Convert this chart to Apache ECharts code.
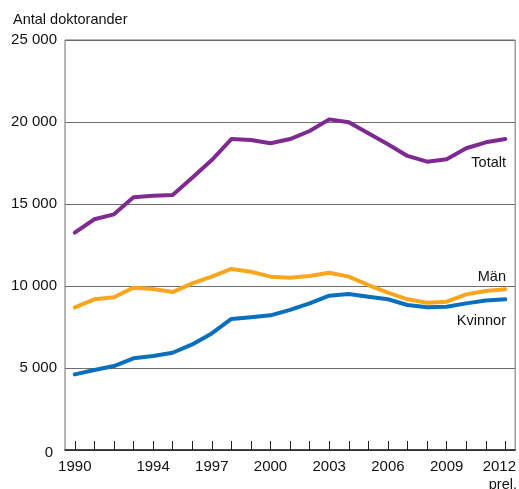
<!DOCTYPE html>
<html>
<head>
<meta charset="utf-8">
<script src="https://cdn.jsdelivr.net/npm/echarts@6/dist/echarts.min.js"></script>
<style>
  html, body { margin: 0; padding: 0; background: #fff; }
  #chart { width: 519px; height: 489px; }
</style>
</head>
<body>
<div id="chart"></div>
<script>
var years = ['1990', '1991', '1992', '1993', '1994', '1995', '1996', '1997', '1998', '1999', '2000',
  '2001', '2002', '2003', '2004', '2005', '2006', '2007', '2008', '2009', '2010', '2011', '2012'];
var shownYears = ['1990', '1994', '1997', '2000', '2003', '2006', '2009', '2012'];

var totalt = [13250, 14070, 14370, 15410, 15510, 15550, 16600, 17680, 18960, 18900, 18700,
  18960, 19450, 20160, 19980, 19310, 18640, 17930, 17580, 17730, 18400, 18760, 18960];
var man = [8700, 9190, 9310, 9900, 9820, 9630, 10160, 10570, 11040, 10870, 10570,
  10510, 10610, 10810, 10570, 10060, 9590, 9190, 8980, 9040, 9490, 9700, 9800];
var kvinnor = [4610, 4880, 5120, 5590, 5730, 5930, 6440, 7110, 7990, 8090, 8210,
  8540, 8940, 9410, 9510, 9350, 9190, 8840, 8700, 8740, 8940, 9110, 9190];

var font = 'Liberation Sans, Arial, Helvetica, sans-serif';
var chart = echarts.init(document.getElementById('chart'));

function line(name, data, color) {
  return {
    name: name,
    type: 'line',
    data: data,
    symbol: 'none',
    smooth: false,
    lineStyle: { color: color, width: 4, cap: 'round', join: 'round' },
    z: 3
  };
}

var option = {
  animation: false,
  grid: {
    left: 65, right: 2, top: 40, bottom: 39,
    show: true, borderColor: '#6d6d6d', borderWidth: 1
  },
  xAxis: {
    type: 'category',
    data: years,
    boundaryGap: true,
    axisLine: { show: true, lineStyle: { color: '#222', width: 1.5 } },
    axisTick: {
      show: true, alignWithLabel: true, interval: 0, length: 9, inside: true,
      lineStyle: { color: '#222', width: 1 }
    },
    axisLabel: {
      interval: function (i, v) { return shownYears.indexOf(v) >= 0; },
      color: '#111', fontFamily: font, fontSize: 15, margin: 9,
      formatter: function (v) { return v === '2012' ? '{last|2012}' : v; },
      rich: { last: { padding: [0, 12, 0, 0], color: '#111', fontFamily: font, fontSize: 15 } }
    },
    z: 5
  },
  yAxis: {
    type: 'value',
    min: 0, max: 25000, interval: 5000,
    axisLine: { show: false },
    axisTick: { show: false },
    splitLine: { lineStyle: { color: '#6d6d6d', width: 1 } },
    axisLabel: {
      color: '#111', fontFamily: font, fontSize: 15, margin: 8,
      formatter: function (v) { return v === 0 ? '{zero|0}' : (v / 1000) + ' 000'; },
      rich: { zero: { padding: [6, 4, 0, 0], color: '#111', fontFamily: font, fontSize: 15 } }
    }
  },
  series: [
    line('Totalt', totalt, '#7f2a91'),
    line('Män', man, '#f9a61f'),
    line('Kvinnor', kvinnor, '#0a70bb')
  ],
  graphic: [
    { type: 'text', left: 13, top: 12, style: { text: 'Antal doktorander', fill: '#111', font: '14.5px ' + font } },
    { type: 'text', right: 13, top: 155, style: { text: 'Totalt', fill: '#111', font: '14.5px ' + font } },
    { type: 'text', right: 13, top: 269, style: { text: 'Män', fill: '#111', font: '14.5px ' + font } },
    { type: 'text', right: 13, top: 313, style: { text: 'Kvinnor', fill: '#111', font: '14.5px ' + font } },
    { type: 'text', right: 2, top: 477, style: { text: 'prel.', fill: '#111', font: '14.5px ' + font } }
  ]
};

chart.setOption(option);
</script>
</body>
</html>
